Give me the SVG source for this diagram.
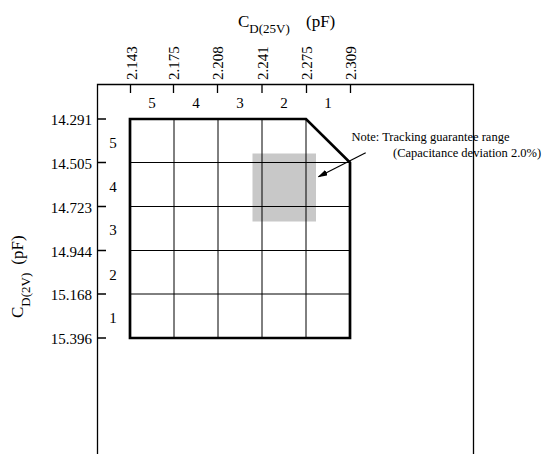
<svg xmlns="http://www.w3.org/2000/svg" width="545" height="454" viewBox="0 0 545 454">
<defs>
<style>
text{font-family:"Liberation Serif","Times New Roman",serif;fill:#000}
.tk{font-size:15px}
.nt{font-size:12.5px}
.ax{stroke:#000;stroke-width:1.3;fill:none}
.gr{stroke:#000;stroke-width:1;fill:none}
.bd{stroke:#000;stroke-width:2.7;fill:none;stroke-linejoin:miter}
</style>
<marker id="ah" markerWidth="10" markerHeight="6" refX="9" refY="3" orient="auto" markerUnits="userSpaceOnUse">
<path d="M0,0 L10,3 L0,6 z" fill="#000"/>
</marker>
</defs>
<rect width="545" height="454" fill="#fff"/>
<g id="frame">
<path class="ax" d="M97.5,454 V84.5 H473.5 V454"/>
<path class="ax" d="M130.5,84.5 V93 M173.5,84.5 V93 M217.5,84.5 V93 M262,84.5 V93 M306.5,84.5 V93 M350.5,84.5 V93"/>
<path class="ax" d="M97.5,119 H106 M97.5,162.5 H106 M97.5,206.5 H106 M97.5,250.5 H106 M97.5,294 H106 M97.5,338 H106"/>
</g>
<g id="top-axis">
<text x="238" y="26.5" font-size="17">C<tspan font-size="13" dy="6.5">D(25V)</tspan><tspan font-size="17" dy="-6.5" x="306">(pF)</tspan></text>
<text class="tk" transform="translate(136.5,80) rotate(-90)">2.143</text>
<text class="tk" transform="translate(179.3,80) rotate(-90)">2.175</text>
<text class="tk" transform="translate(223.3,80) rotate(-90)">2.208</text>
<text class="tk" transform="translate(267.8,80) rotate(-90)">2.241</text>
<text class="tk" transform="translate(312.3,80) rotate(-90)">2.275</text>
<text class="tk" transform="translate(356.3,80) rotate(-90)">2.309</text>
<g class="tk" text-anchor="middle">
<text x="152" y="108">5</text>
<text x="196" y="108">4</text>
<text x="240" y="108">3</text>
<text x="284" y="108">2</text>
<text x="328" y="108">1</text>
</g>
</g>
<g id="left-axis">
<text transform="translate(23,318) rotate(-90)" font-size="17">C<tspan font-size="13" dy="6.5">D(2V)</tspan><tspan font-size="17" dy="-6.5" dx="8">(pF)</tspan></text>
<g class="tk" text-anchor="end">
<text x="92" y="125">14.291</text>
<text x="92" y="168.5">14.505</text>
<text x="92" y="212.5">14.723</text>
<text x="92" y="256.5">14.944</text>
<text x="92" y="300">15.168</text>
<text x="92" y="344">15.396</text>
</g>
<g class="tk" text-anchor="middle">
<text x="113" y="148">5</text>
<text x="113" y="192">4</text>
<text x="113" y="235">3</text>
<text x="113" y="280">2</text>
<text x="113" y="323">1</text>
</g>
</g>
<g id="range">
<rect x="252.5" y="153.5" width="63.5" height="68" fill="#c8c8c8"/>
</g>
<g id="grid">
<path class="gr" d="M174,119 V338 M218,119 V338 M262,119 V338 M306,119 V338"/>
<path class="gr" d="M130,162.5 H350 M130,206.5 H350 M130,250.5 H350 M130,294 H350"/>
<path class="bd" d="M130,119 H306 L350,162.5 V338 H130 Z"/>
</g>
<g id="note">
<text class="nt" x="351.5" y="140.5">Note: Tracking guarantee range</text>
<text class="nt" x="393" y="157">(Capacitance deviation 2.0%)</text>
</g>
<g id="connectors">
<line x1="365.7" y1="152.7" x2="318.5" y2="176.7" stroke="#000" stroke-width="1.2" marker-end="url(#ah)"/>
</g>
</svg>
